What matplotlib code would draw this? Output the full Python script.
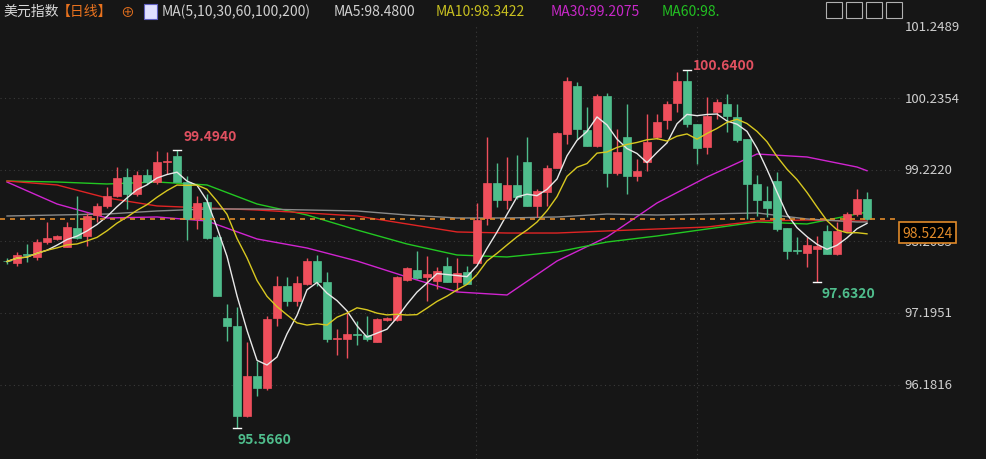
import numpy as np
import pandas as pd
import matplotlib
matplotlib.use("Agg")
import matplotlib.pyplot as plt
from matplotlib.patches import Rectangle

plt.rcParams['font.family'] = ['Noto Sans CJK SC', 'DejaVu Sans']

opens = [97.937,97.902,98.025,97.987,98.199,98.242,98.133,98.397,98.284,98.581,
         98.713,98.850,99.123,98.878,99.152,99.052,99.331,99.420,99.044,98.525,
         98.769,98.274,97.124,97.014,95.732,96.307,96.129,97.124,97.581,97.368,
         97.605,97.934,97.637,96.830,96.826,96.888,96.883,96.788,97.095,97.095,
         97.665,97.807,97.699,97.651,97.864,97.637,97.779,97.902,98.534,99.030,
         98.793,99.010,99.335,98.704,98.911,99.242,99.727,100.411,99.788,99.553,
         100.269,99.176,99.689,99.129,99.335,99.681,99.930,100.166,100.482,99.869,
         99.548,100.035,100.152,99.964,99.657,99.020,98.784,99.067,98.393,98.081,
         98.043,98.100,98.359,98.029,98.359,98.595,98.808]
highs = [97.973,98.058,98.171,98.241,98.486,98.298,98.482,98.854,98.609,98.751,
         98.977,99.265,99.246,99.208,99.232,99.491,99.473,99.494,99.137,98.854,
         98.878,98.298,97.322,97.279,96.784,96.519,97.152,97.722,97.704,97.722,
         97.973,98.015,97.775,96.968,97.208,97.085,97.152,97.124,97.138,97.722,
         97.845,98.076,98.005,97.845,97.991,97.973,97.864,98.751,99.689,99.313,
         99.406,99.435,99.689,98.949,99.289,99.760,100.538,100.459,100.114,100.294,
         100.304,99.794,100.152,99.374,100.011,100.011,100.199,100.609,100.640,99.869,
         100.247,100.223,100.294,100.152,99.657,99.147,98.996,99.185,98.393,98.266,
         98.266,98.288,98.440,98.478,98.619,98.949,98.911]
lows = [97.888,97.860,97.916,97.944,98.171,98.227,98.128,98.242,98.147,98.486,
        98.680,98.836,98.666,98.854,99.020,99.020,99.161,99.232,98.227,98.383,
        98.242,97.435,96.802,95.566,95.720,96.024,96.109,97.006,97.293,97.298,
        97.595,97.581,96.788,96.600,96.557,96.741,96.802,96.784,97.081,97.085,
        97.654,97.675,97.368,97.534,97.629,97.510,97.600,97.902,98.440,98.690,
        98.666,98.808,98.704,98.549,98.704,99.242,99.586,99.657,99.553,99.539,
        98.973,99.147,98.878,99.067,99.208,99.657,99.798,100.043,99.822,99.303,
        99.444,99.940,99.760,99.610,98.525,98.571,98.549,98.359,97.958,98.029,
        97.841,97.632,98.029,98.015,98.336,98.571,98.510]
closes = [97.923,98.019,98.015,98.199,98.255,98.284,98.416,98.256,98.567,98.709,
          98.854,99.105,98.878,99.152,99.052,99.335,99.352,99.044,98.525,98.751,
          98.251,97.439,97.014,95.732,96.307,96.129,97.109,97.581,97.368,97.619,
          97.934,97.629,96.826,96.840,96.893,96.878,96.826,97.109,97.117,97.708,
          97.831,97.685,97.746,97.793,97.637,97.760,97.605,98.510,99.030,98.793,
          99.010,98.840,98.704,98.925,99.242,99.742,100.482,99.798,99.553,100.269,
          99.176,99.477,99.129,99.208,99.619,99.902,100.152,100.482,99.869,99.529,
          99.987,100.185,99.987,99.643,99.020,98.798,98.680,98.383,98.076,98.071,
          98.161,98.143,98.029,98.359,98.595,98.808,98.5224]

ma_idx = [0,5,10,15,20,25,30,35,40,45,50,55,60,65,70,75,80,85,86]
ma30 = [99.048,98.737,98.539,98.553,98.496,98.242,98.114,97.930,97.704,97.492,
        97.449,97.930,98.270,98.751,99.119,99.444,99.402,99.260,99.2075]
ma60 = [99.062,99.048,99.020,99.048,99.006,98.737,98.581,98.369,98.171,98.015,
        97.987,98.058,98.199,98.284,98.383,98.482,98.454,98.595,98.624]
ma100 = [99.062,99.006,98.822,98.709,98.680,98.652,98.610,98.567,98.454,98.341,
         98.326,98.326,98.355,98.383,98.411,98.496,98.510,98.496,98.496]
ma200 = [98.567,98.581,98.595,98.638,98.666,98.666,98.652,98.638,98.581,98.539,
         98.539,98.553,98.595,98.581,98.595,98.610,98.525,98.482,98.482]

y_ticks = [101.2489, 100.2354, 99.2220, 98.2085, 97.1951, 96.1816]
last_price = 98.5224
hi_val, hi_i = 100.6400, 68
hi2_val, hi2_i = 99.4940, 17
lo_val, lo_i = 95.5660, 23
lo2_val, lo2_i = 97.6320, 81

BG = '#161616'
UP = '#ee4f5c'
DN = '#4fbd8c'

fig = plt.figure(figsize=(9.87, 4.6), dpi=100, facecolor=BG)
ax = fig.add_axes([0, 0, 900/987, 435/460])
ax.set_facecolor(BG)
for s in ax.spines.values():
    s.set_visible(False)

n = len(closes)
x = np.arange(n)
for i in range(n):
    o, h, l, c = opens[i], highs[i], lows[i], closes[i]
    col = UP if c >= o else DN
    ax.vlines(i, l, h, color=col, lw=1, zorder=3)
    bot = min(o, c); ht = max(abs(c - o), 0.012)
    ax.add_patch(Rectangle((i - 0.38, bot), 0.76, ht, facecolor=col, edgecolor=col, lw=0.5, zorder=4))

cs = pd.Series(closes)
ma5 = cs.rolling(5, min_periods=1).mean()
ma10 = cs.rolling(10, min_periods=1).mean()
ax.plot(x, ma5, color='#e8e8e8', lw=1, zorder=5)
ax.plot(x, ma10, color='#d8c820', lw=1, zorder=5)
ax.plot(ma_idx, ma30, color='#d024d0', lw=1, zorder=2)
ax.plot(ma_idx, ma60, color='#22c822', lw=1, zorder=2)
ax.plot(ma_idx, ma100, color='#e02424', lw=1, zorder=2)
ax.plot(ma_idx, ma200, color='#8a8a8a', lw=1, zorder=2)

ax.axhline(last_price, color='#e08a2a', lw=1.2, ls=(0, (3, 3)), zorder=6)

ax.set_xlim(-0.7, 89.3)
ax.set_ylim(95.128, 101.284)
for t in y_ticks[1:]:
    ax.axhline(t, color='#3a3a3a', lw=0.8, ls=(0, (1, 3)), zorder=1)
for xv in [46.9, 69.0]:
    ax.axvline(xv, color='#3a3a3a', lw=0.8, ls=(0, (1, 3)), zorder=1)
ax.set_xticks([]); ax.set_yticks([])

# axis labels on right
for t in y_ticks:
    ax.text(1.005, t, f'{t:.4f}', transform=ax.get_yaxis_transform(), color='#d0d0d0',
            fontsize=9.5, va='center', ha='left', clip_on=False)
ax.text(1.003, last_price - 0.19, f'{last_price:.4f}', transform=ax.get_yaxis_transform(),
        color='#e08a2a', fontsize=10, va='center', ha='left', clip_on=False, zorder=10,
        bbox=dict(boxstyle='square,pad=0.25', fc='#000000', ec='#e08a2a', lw=1.2))

# extreme markers
def mark(i, v, txt, col, dy, dx):
    ax.plot([i - 0.4, i + 0.4], [v, v], color='white', lw=1, zorder=7)
    ax.text(i + dx, v + dy, txt, color=col, fontsize=10, fontweight='bold', ha='left', va='center')
mark(hi_i, hi_val, f'{hi_val:.4f}', '#e05060', 0.07, 0.6)
mark(hi2_i, hi2_val, f'{hi2_val:.4f}', '#e05060', 0.2, 0.6)
mark(lo_i, lo_val, f'{lo_val:.4f}', '#4fbd8c', -0.15, 0.0)
mark(lo2_i, lo2_val, f'{lo2_val:.4f}', '#4fbd8c', -0.15, 0.5)

# header
y0 = 1 - 12/460
items = [('美元指数', '#d8d8d8', 3), ('【日线】', '#e8721e', 57), ('⊕', '#e8721e', 120),
         ('MA(5,10,30,60,100,200)', '#d0d0d0', 162), ('MA5:98.4800', '#d0d0d0', 334),
         ('MA10:98.3422', '#c8c020', 436), ('MA30:99.2075', '#c828c8', 551), ('MA60:98.', '#22c022', 662)]
for txt, col, px in items:
    fig.text(px/987, y0, txt, color=col, fontsize=10, va='center', ha='left')
fig.patches.append(Rectangle((144/987, y0 - 8/460), 13/987, 15/460, transform=fig.transFigure,
                             fc='#e0e0ff', ec='#6060c0', lw=0.8))
for k in range(4):
    fig.patches.append(Rectangle(((826 + k*20)/987, 1 - 19/460), 16/987, 16/460,
                                 transform=fig.transFigure, fc='#101010', ec='#b0b0b0', lw=0.8))

fig.savefig('out.png', dpi=100, facecolor=BG)
